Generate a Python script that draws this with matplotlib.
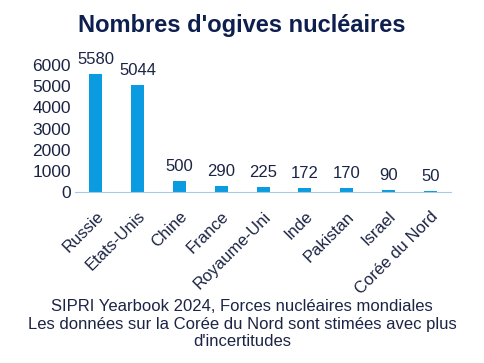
import matplotlib.pyplot as plt

plt.rcParams['font.family'] = ['Liberation Sans', 'DejaVu Sans']

pays = ['Russie', 'Etats-Unis', 'Chine', 'France', 'Royaume-Uni',
        'Inde', 'Pakistan', 'Israel', 'Corée du Nord']
ogives = [5580, 5044, 500, 290, 225, 172, 170, 90, 50]
yticks = [0, 1000, 2000, 3000, 4000, 5000, 6000]

bleu = '#0a9be0'
texte = '#1b2444'

fig = plt.figure(figsize=(4.84, 3.63), dpi=100)
ax = fig.add_axes([0.155, 0.471, 0.777, 0.350])

x = range(len(pays))
ax.bar(x, ogives, width=0.31, color=bleu)
for i, v in enumerate(ogives):
    ax.annotate(str(v), (i, v), xytext=(0, 5), textcoords='offset points',
                ha='center', va='bottom', fontsize=12, color=texte,
                annotation_clip=False)

ax.set_xlim(-0.5, len(pays) - 0.5)
ax.set_ylim(0, 6000)
ax.set_yticks(yticks)
ax.set_yticklabels([str(t) for t in yticks], fontsize=12.5, color=texte)
ax.set_xticks(list(x))
ax.set_xticklabels(pays, rotation=45, ha='right', rotation_mode='anchor',
                   fontsize=12, color=texte)
ax.tick_params(axis='y', length=0, pad=3)
ax.tick_params(axis='x', length=0, pad=12)
for s in ['top', 'right', 'left']:
    ax.spines[s].set_visible(False)
ax.spines['bottom'].set_color('#a9c7ea')

fig.text(0.5, 0.93, "Nombres d'ogives nucléaires", ha='center', va='center',
         fontsize=17, fontweight='bold', color='#0d1f4e')
fig.text(0.5, 0.157, "SIPRI Yearbook 2024, Forces nucléaires mondiales",
         ha='center', va='center', fontsize=12, color=texte)
fig.text(0.5, 0.107, "Les données sur la Corée du Nord sont stimées avec plus",
         ha='center', va='center', fontsize=12, color=texte)
fig.text(0.5, 0.059, "d'incertitudes",
         ha='center', va='center', fontsize=12, color=texte)

fig.savefig('out.png', dpi=100, facecolor='white')
